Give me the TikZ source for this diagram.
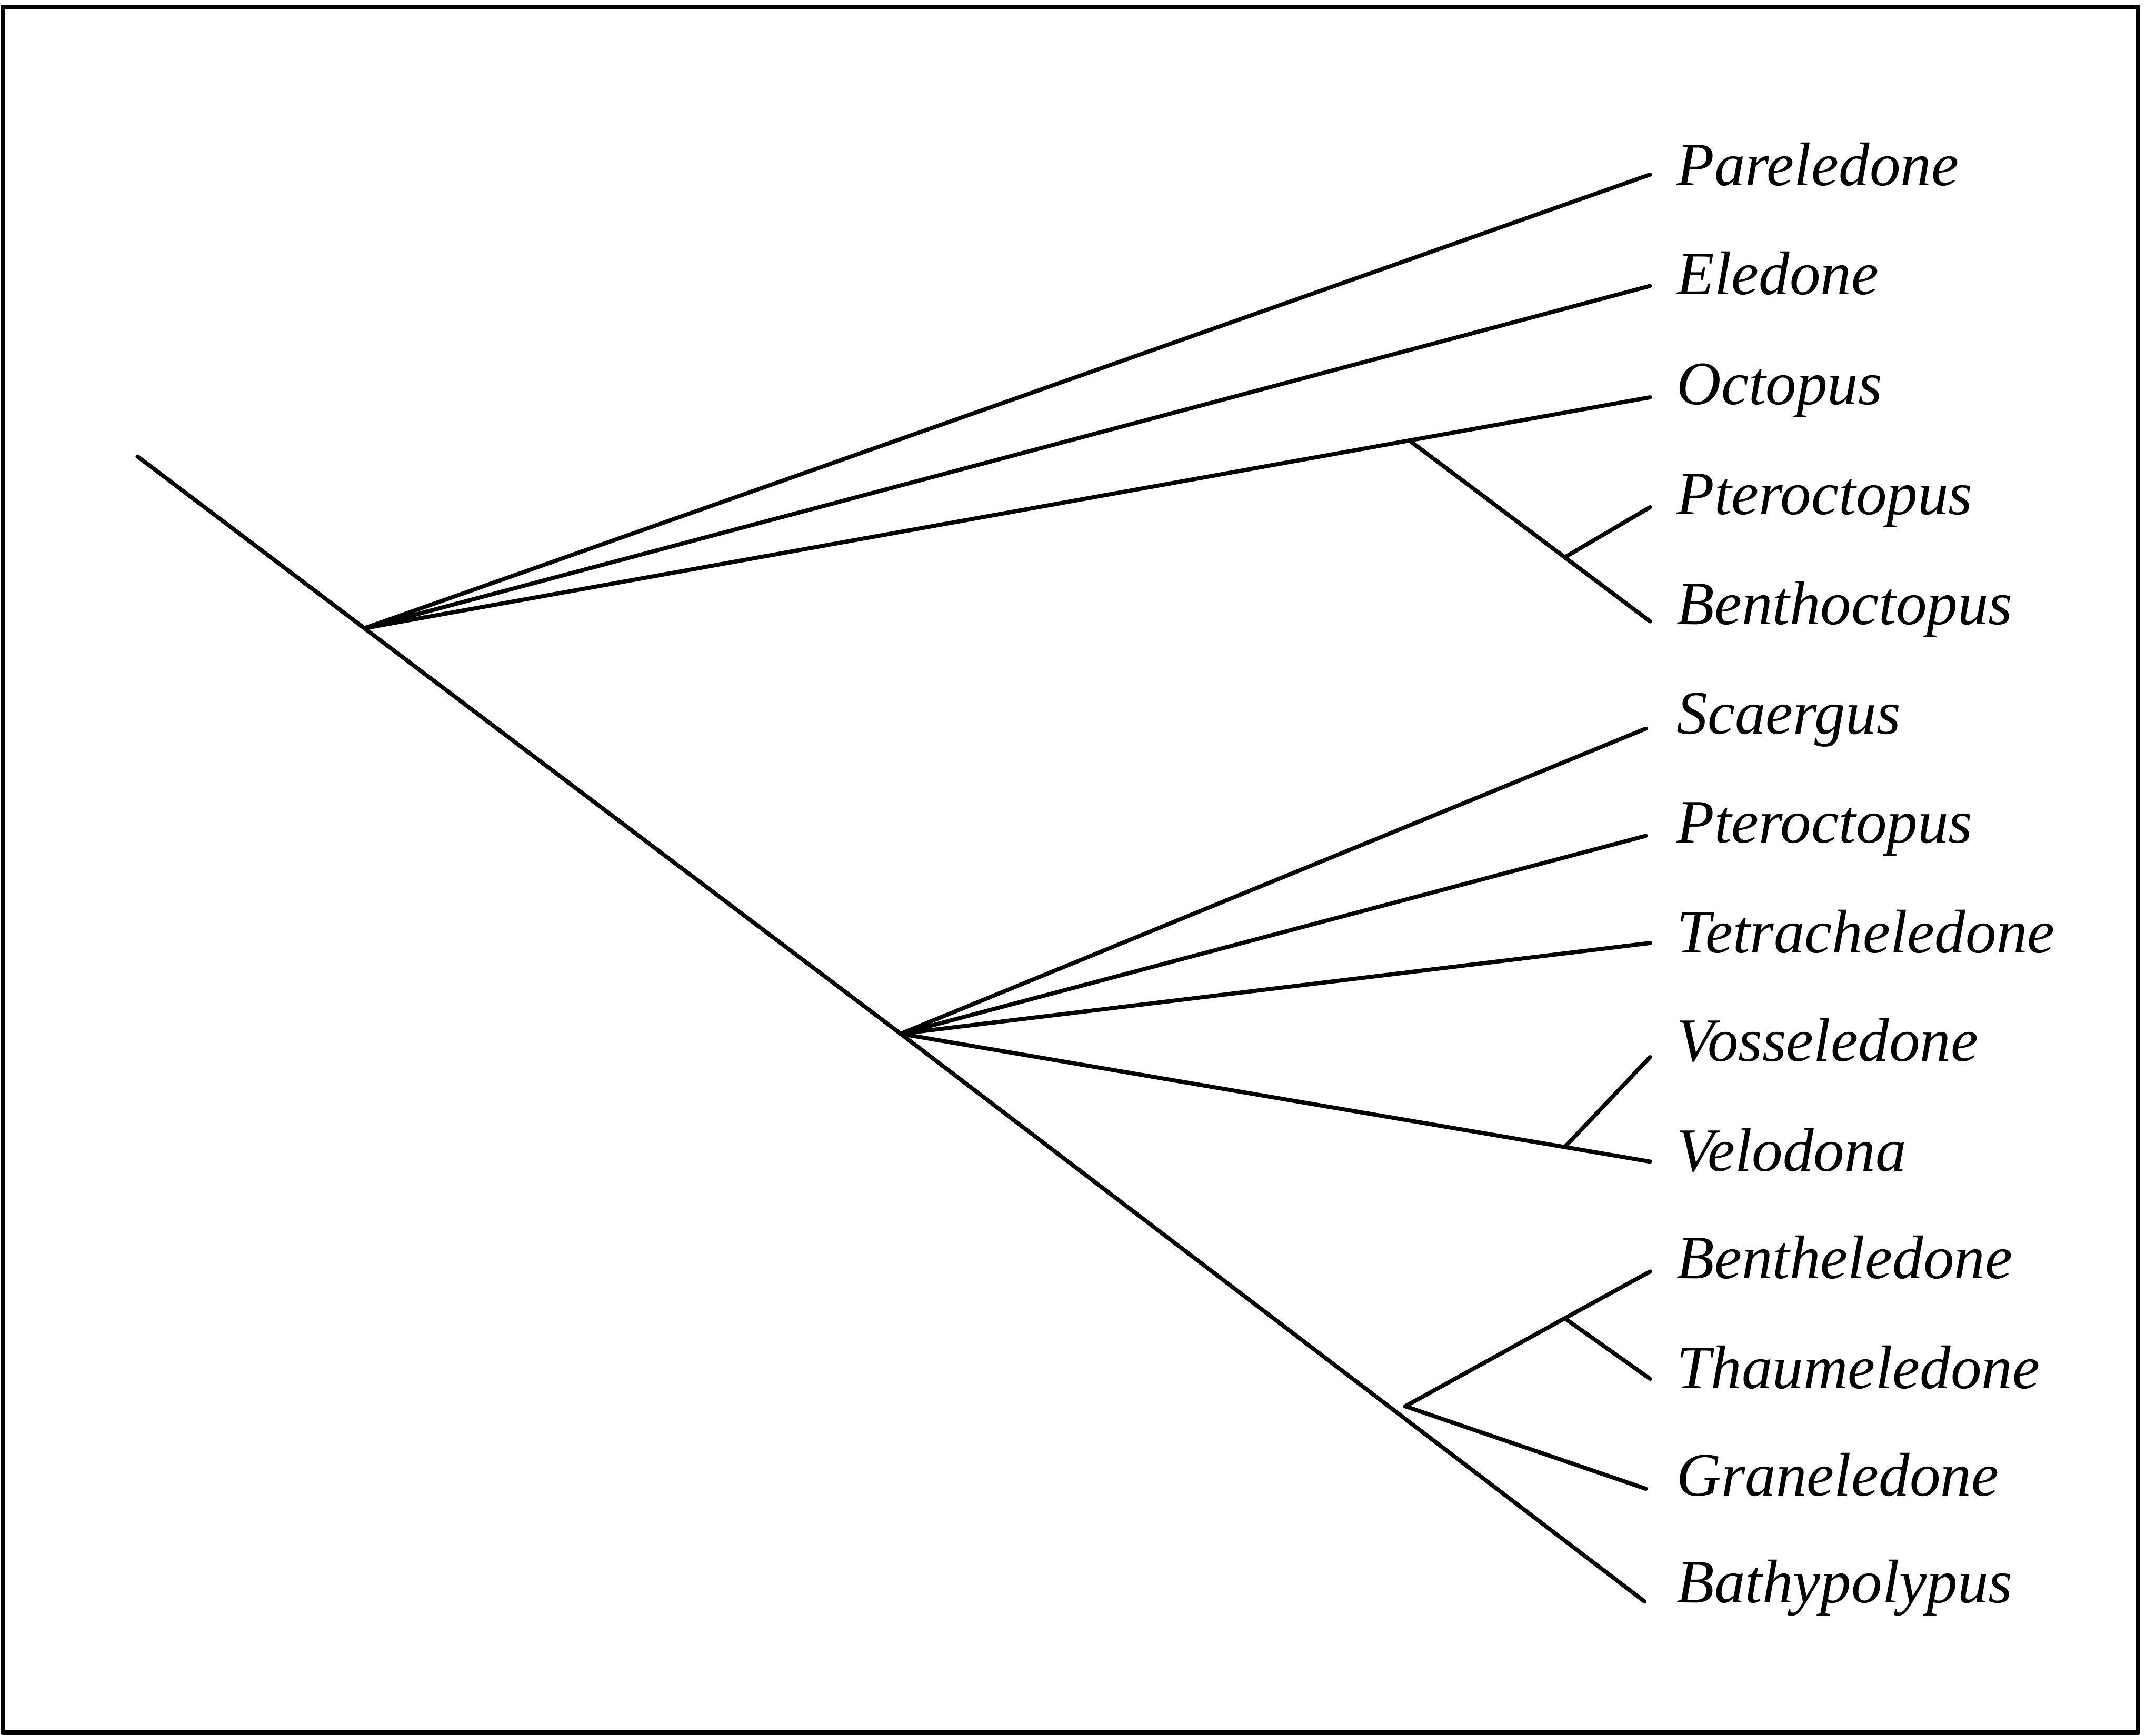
\documentclass[tikz,border=0pt]{standalone}
\usepackage{fontspec}
\setmainfont{Liberation Serif}
\usetikzlibrary{positioning}

\begin{document}
\begin{tikzpicture}[x=0.01cm,y=-0.01cm,line width=0.85pt,line cap=round,line join=round]
  \tikzstyle{taxon}=[anchor=base west,inner sep=0pt,font=\fontsize{12.75}{15}\selectfont\itshape]
\useasboundingbox (0,0) rectangle (1568,1262);
\draw[line width=0.95pt] (2,5) rectangle (1555,1260.5);
% inner nodes
\coordinate (r) at (100,332);
\coordinate (a) at (265,457);
\coordinate (b) at (1025,320.4);
\coordinate (c) at (655,752);
\coordinate (d) at (1022,1023);
\coordinate (e) at (1138,405.4);
\coordinate (f) at (1138,834.4);
\coordinate (g) at (1138,959);
% leaf ends
\coordinate (e1) at (1200,127);
\coordinate (e2) at (1200,208);
\coordinate (e3) at (1200,289);
\coordinate (e4) at (1200,369);
\coordinate (e5) at (1200,452);
\coordinate (e6) at (1197,530);
\coordinate (e7) at (1197,608);
\coordinate (e8) at (1200,686);
\coordinate (e9) at (1200,769);
\coordinate (e10) at (1200,845);
\coordinate (e11) at (1200,925);
\coordinate (e12) at (1200,1003);
\coordinate (e13) at (1197,1083);
\coordinate (e14) at (1196,1165);
% taxa
\node[taxon] (t1) at (1218,135) {Pareledone};
\node[taxon] (t2) at (1218,214) {Eledone};
\node[taxon] (t3) at (1218,294) {Octopus};
\node[taxon] (t4) at (1218,374) {Pteroctopus};
\node[taxon] (t5) at (1218,454) {Benthoctopus};
\node[taxon] (t6) at (1218,534) {Scaergus};
\node[taxon] (t7) at (1218,613) {Pteroctopus};
\node[taxon] (t8) at (1218,693) {Tetracheledone};
\node[taxon] (t9) at (1218,772) {Vosseledone};
\node[taxon] (t10) at (1218,852) {Velodona};
\node[taxon] (t11) at (1218,930) {Bentheledone};
\node[taxon] (t12) at (1218,1010) {Thaumeledone};
\node[taxon] (t13) at (1218,1088) {Graneledone};
\node[taxon] (t14) at (1218,1166) {Bathypolypus};
% branches
\draw (r) -- (a) -- (c) -- (e14);
\draw (a) -- (e1);
\draw (a) -- (e2);
\draw (a) -- (b) -- (e3);
\draw (b) -- (e) -- (e5);
\draw (e) -- (e4);
\draw (c) -- (e6);
\draw (c) -- (e7);
\draw (c) -- (e8);
\draw (c) -- (f) -- (e10);
\draw (f) -- (e9);
\draw (d) -- (g) -- (e11);
\draw (g) -- (e12);
\draw (d) -- (e13);
\end{tikzpicture}
\end{document}
